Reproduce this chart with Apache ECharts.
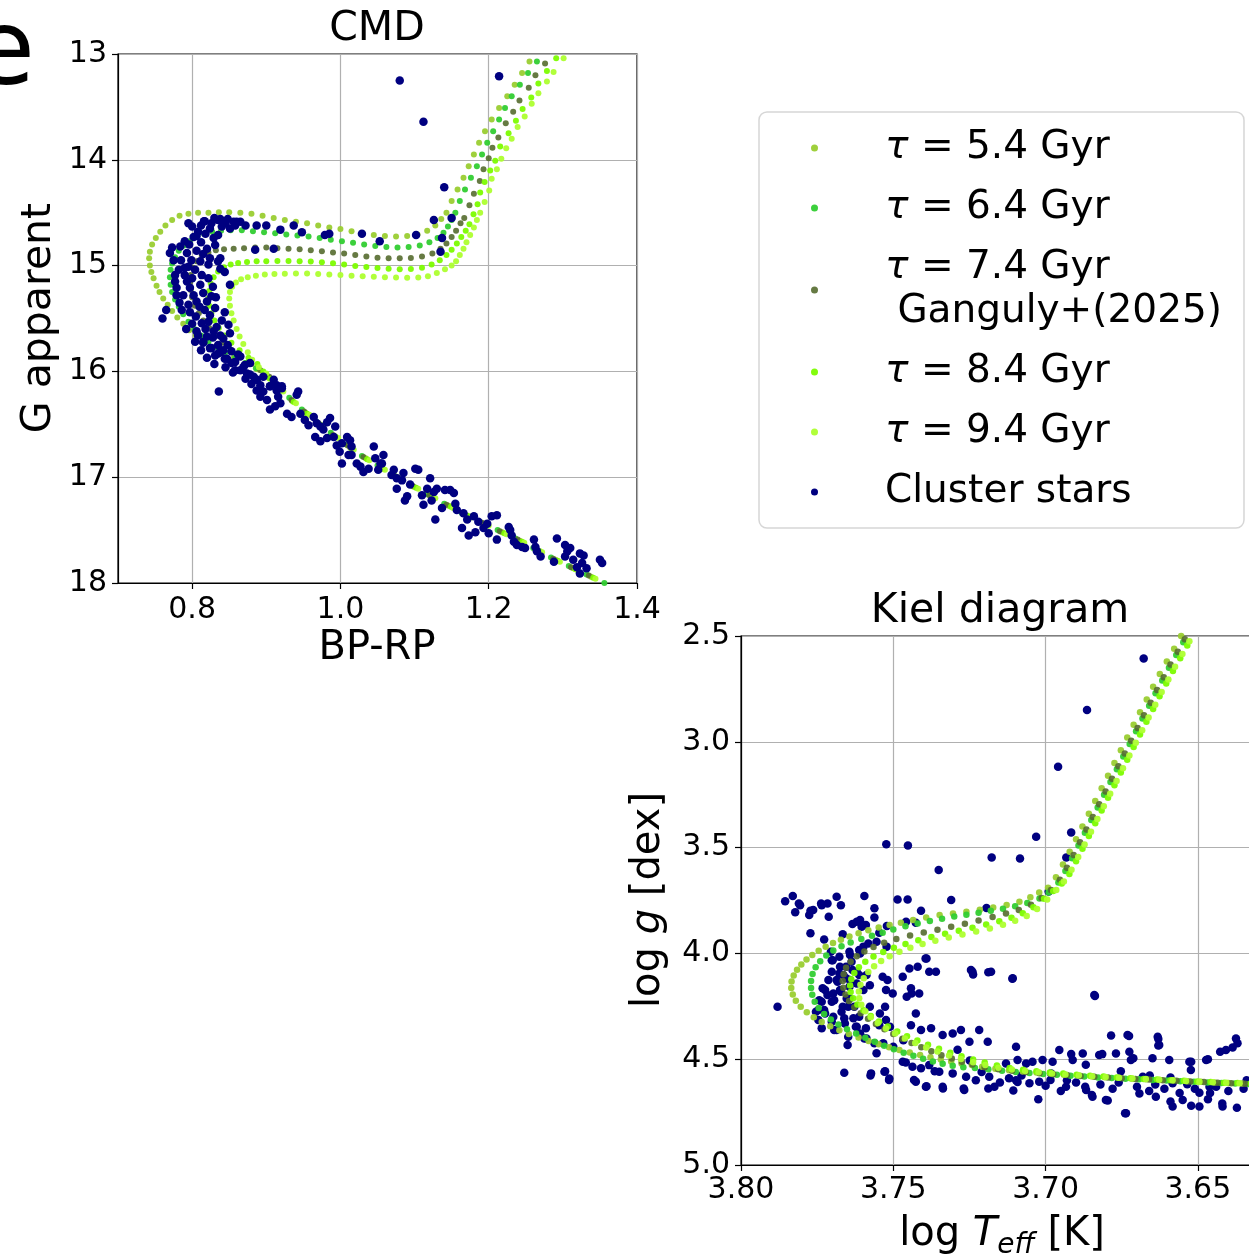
<!DOCTYPE html>
<html><head><meta charset="utf-8">
<script src="https://cdn.jsdelivr.net/npm/echarts@6/dist/echarts.min.js"></script>
<style>html,body{margin:0;padding:0;background:#fff}#c{width:1249px;height:1255px}</style>
</head><body><div id="c"></div>
<script>
// ---------- names / ticks ----------
const seriesNames = ['τ = 5.4 Gyr','τ = 6.4 Gyr','τ = 7.4 Gyr\n Ganguly+(2025)','τ = 8.4 Gyr','τ = 9.4 Gyr','Cluster stars'];
const seriesColors = ['#9acd32','#32cd32','#556b2f','#7cfc00','#adff2f','#000080'];
const cmdXTicks = [0.8,1.0,1.2,1.4];
const cmdYTicks = [13,14,15,16,17,18];
const kielXTicks = [3.80,3.75,3.70,3.65];
const kielYTicks = [2.5,3.0,3.5,4.0,4.5,5.0];

// ---------- CMD isochrones [BP-RP, G] ----------
const cmdIso54 = [[1.362,18.02],[1.338,17.94],[1.314,17.86],[1.29,17.78],[1.266,17.69],[1.242,17.60],[1.218,17.52],[1.194,17.44],[1.170,17.36],[1.146,17.27],[1.122,17.18],[1.099,17.09],[1.077,17.00],[1.055,16.91],[1.034,16.82],[1.013,16.72],[0.992,16.61],[0.972,16.50],[0.953,16.39],[0.935,16.28],[0.918,16.17],[0.903,16.06],
[0.888,15.98],[0.872,15.92],[0.856,15.87],[0.840,15.82],[0.827,15.77],[0.815,15.72],[0.805,15.66],[0.796,15.61],[0.788,15.55],[0.780,15.49],[0.773,15.43],[0.767,15.37],[0.761,15.31],[0.756,15.25],[0.752,15.19],[0.748,15.12],[0.745,15.06],[0.743,15.00],[0.742,14.93],[0.743,14.87],[0.746,14.80],[0.751,14.74],[0.757,14.68],[0.764,14.62],[0.773,14.57],[0.783,14.53],[0.795,14.51],[0.808,14.50],[0.822,14.50],[0.836,14.495],[0.850,14.495],[0.865,14.50],[0.880,14.51],[0.895,14.53],[0.910,14.55],[0.925,14.57],[0.940,14.585],[0.955,14.60],[0.970,14.62],[0.985,14.64],[1.000,14.655],[1.015,14.675],[1.030,14.695],[1.045,14.71],[1.060,14.72],[1.075,14.725],[1.090,14.72],[1.104,14.705],[1.117,14.67],[1.128,14.62],[1.136,14.56],
[1.143,14.50],[1.150,14.39],[1.158,14.28],[1.166,14.17],[1.173,14.06],[1.180,13.95],[1.187,13.84],[1.195,13.73],[1.204,13.62],[1.214,13.51],[1.225,13.40],[1.235,13.29],[1.245,13.18],[1.255,13.07],[1.265,12.96]];
const cmdIso64 = [[1.356,18.00],[1.332,17.92],[1.308,17.84],[1.284,17.76],[1.260,17.67],[1.236,17.58],[1.212,17.50],[1.188,17.42],[1.164,17.34],[1.140,17.25],[1.117,17.16],[1.094,17.07],[1.072,16.98],[1.050,16.89],[1.029,16.80],[1.008,16.69],[0.987,16.58],[0.967,16.47],[0.948,16.36],[0.931,16.25],[0.915,16.14],[0.900,16.03],[0.886,15.97],
[0.872,15.92],[0.858,15.87],[0.845,15.82],[0.833,15.77],[0.822,15.72],[0.812,15.66],[0.803,15.60],[0.795,15.53],[0.788,15.46],[0.782,15.39],[0.777,15.32],[0.773,15.25],[0.771,15.18],[0.770,15.11],[0.771,15.04],[0.773,14.98],[0.777,14.92],[0.782,14.86],[0.789,14.81],[0.797,14.77],[0.806,14.73],[0.816,14.70],[0.827,14.68],[0.839,14.67],[0.852,14.665],[0.867,14.665],[0.882,14.675],[0.897,14.685],[0.912,14.695],[0.927,14.705],[0.942,14.715],[0.957,14.725],[0.972,14.74],[0.987,14.755],[1.002,14.77],[1.017,14.785],[1.032,14.80],[1.047,14.815],[1.062,14.825],[1.077,14.83],[1.092,14.825],[1.107,14.81],[1.120,14.78],[1.131,14.74],[1.139,14.69],[1.145,14.63],[1.150,14.57],
[1.155,14.50],[1.161,14.39],[1.168,14.28],[1.176,14.17],[1.184,14.06],[1.191,13.95],[1.198,13.84],[1.206,13.73],[1.214,13.62],[1.222,13.51],[1.231,13.40],[1.242,13.29],[1.253,13.18],[1.265,13.07],[1.276,12.96]];
const cmdIso74 = [[1.359,18.01],[1.335,17.93],[1.311,17.85],[1.287,17.77],[1.263,17.68],[1.239,17.59],[1.215,17.51],[1.191,17.43],[1.167,17.35],[1.143,17.26],[1.120,17.17],[1.097,17.08],[1.074,16.99],[1.052,16.90],[1.031,16.81],[1.010,16.70],[0.990,16.60],[0.970,16.49],[0.951,16.38],[0.934,16.27],[0.918,16.16],[0.904,16.05],[0.892,15.99],
[0.880,15.93],[0.866,15.86],[0.853,15.80],[0.842,15.73],[0.832,15.66],[0.823,15.59],[0.815,15.52],[0.809,15.45],[0.804,15.38],[0.800,15.30],[0.798,15.23],[0.797,15.16],[0.798,15.09],[0.801,15.02],[0.806,14.96],[0.813,14.91],[0.822,14.875],[0.832,14.855],[0.843,14.845],[0.856,14.84],[0.870,14.835],[0.885,14.83],[0.900,14.83],[0.915,14.835],[0.930,14.84],[0.945,14.845],[0.960,14.855],[0.975,14.865],[0.990,14.875],[1.005,14.885],[1.020,14.90],[1.035,14.915],[1.050,14.925],[1.065,14.93],[1.080,14.93],[1.095,14.928],[1.110,14.915],[1.124,14.885],[1.135,14.84],[1.143,14.79],[1.150,14.73],[1.156,14.67],[1.162,14.60],
[1.167,14.55],[1.174,14.43],[1.180,14.32],[1.188,14.20],[1.193,14.09],[1.200,13.985],[1.205,13.885],[1.213,13.79],[1.223,13.655],[1.233,13.545],[1.2415,13.44],[1.254,13.32],[1.263,13.20],[1.276,13.09],[1.288,12.98]];
const cmdIso84 = [[1.365,18.03],[1.341,17.95],[1.317,17.87],[1.293,17.79],[1.269,17.70],[1.245,17.61],[1.221,17.53],[1.197,17.45],[1.173,17.37],[1.149,17.28],[1.125,17.19],[1.102,17.10],[1.079,17.01],[1.057,16.92],[1.036,16.83],[1.015,16.73],[0.994,16.62],[0.974,16.51],[0.955,16.40],[0.937,16.29],[0.920,16.18],[0.905,16.07],[0.896,16.00],
[0.888,15.93],[0.876,15.87],[0.864,15.80],[0.853,15.73],[0.844,15.66],[0.836,15.59],[0.830,15.52],[0.826,15.45],[0.823,15.38],[0.822,15.31],[0.823,15.24],[0.825,15.17],[0.829,15.11],[0.835,15.055],[0.843,15.015],[0.852,14.99],[0.862,14.975],[0.874,14.965],[0.887,14.96],[0.900,14.958],[0.915,14.956],[0.930,14.956],[0.945,14.958],[0.960,14.962],[0.975,14.968],[0.990,14.978],[1.005,14.99],[1.020,15.003],[1.035,15.013],[1.050,15.022],[1.065,15.03],[1.080,15.035],[1.095,15.033],[1.110,15.02],[1.123,14.99],[1.134,14.95],[1.143,14.90],[1.150,14.85],[1.157,14.79],[1.163,14.73],[1.169,14.67],[1.174,14.61],
[1.1795,14.515],[1.185,14.42],[1.1885,14.31],[1.1945,14.21],[1.202,14.10],[1.2088,14.01],[1.2155,13.875],[1.2268,13.75],[1.2367,13.63],[1.2457,13.52],[1.2574,13.41],[1.267,13.28],[1.2785,13.16],[1.291,13.04]];
const cmdIso94 = [[1.368,18.04],[1.344,17.96],[1.320,17.88],[1.296,17.80],[1.272,17.71],[1.248,17.62],[1.224,17.54],[1.200,17.46],[1.176,17.38],[1.152,17.29],[1.128,17.20],[1.105,17.11],[1.082,17.02],[1.060,16.93],[1.039,16.84],[1.018,16.74],[0.997,16.63],[0.977,16.52],[0.958,16.41],[0.940,16.30],[0.923,16.19],[0.909,16.09],[0.900,16.02],
[0.890,15.96],[0.881,15.89],[0.875,15.82],[0.869,15.74],[0.864,15.67],[0.860,15.60],[0.856,15.52],[0.853,15.45],[0.851,15.38],[0.850,15.31],[0.851,15.25],[0.854,15.20],[0.859,15.16],[0.866,15.13],[0.875,15.11],[0.886,15.095],[0.898,15.085],[0.911,15.08],[0.925,15.078],[0.940,15.075],[0.955,15.075],[0.970,15.08],[0.985,15.085],[1.000,15.09],[1.015,15.095],[1.030,15.10],[1.045,15.105],[1.060,15.11],[1.075,15.112],[1.090,15.115],[1.105,15.112],[1.118,15.10],[1.130,15.07],[1.141,15.035],[1.150,15.00],[1.156,14.96],[1.161,14.90],[1.166,14.84],[1.170,14.78],[1.175,14.71],[1.180,14.64],[1.184,14.57],
[1.1885,14.50],[1.1945,14.40],[1.2007,14.29],[1.204,14.18],[1.211,14.09],[1.217,13.99],[1.2236,13.89],[1.231,13.80],[1.239,13.69],[1.2485,13.59],[1.258,13.47],[1.267,13.37],[1.2785,13.26],[1.2875,13.17],[1.301,13.04]];

// ---------- CMD cluster stars [BP-RP, G] ----------
const cmdStars = [[1.080,13.25],[1.112,13.64],[1.214,13.21],[1.140,14.26],[1.126,14.57],[1.150,14.55],[1.102,14.71],[1.137,14.74],[1.135,14.87],[1.053,14.77],[1.029,14.70],[0.985,14.70],[0.979,14.71],[0.948,14.685],[0.937,14.62],[0.919,14.66],[0.900,14.62],[0.887,14.62],[0.910,14.84],[0.885,14.85],[0.865,14.585],[0.856,14.585],[0.838,14.56],[0.817,14.58],[0.795,14.60],[0.773,14.83],[0.760,15.50],[0.836,16.19],
[0.816,14.58],[0.835,14.57],[0.840,14.63],[0.851,14.65],[0.858,14.62],[0.860,14.585],[0.808,14.68],[0.802,14.73],[0.790,14.77],[0.784,14.82],[0.824,14.65],[0.829,14.74],[0.835,14.71],[0.831,14.805],[0.793,14.88],[0.799,14.95],[0.795,15.01],[0.804,15.04],[0.811,14.96],[0.813,15.09],[0.822,14.99],[0.824,14.93],[0.835,14.96],[0.838,14.93],[0.844,15.06],[0.851,15.18],[0.777,15.09],[0.777,15.15],[0.779,15.21],[0.779,15.28],[0.790,15.09],[0.793,15.15],[0.797,15.21],[0.802,15.28],[0.806,15.34],[0.811,15.18],[0.815,15.26],[0.820,15.34],[0.826,15.29],[0.788,15.28],[0.795,15.37],[0.797,15.44],[0.805,15.48],[0.813,15.545],[0.817,15.42],[0.824,15.47],[0.831,15.40],[0.833,15.58],[0.838,15.66],[0.844,15.44],[0.808,15.66],[0.815,15.72],[0.824,15.78],[0.829,15.62],[0.835,15.75],[0.842,15.69],[0.849,15.56],[0.851,15.64],[0.831,15.85],[0.844,15.88],[0.853,15.81],[0.858,15.91],[0.865,15.99],[0.871,15.94],[0.878,16.03],[0.887,16.08],[0.896,16.05],[0.905,16.14],[0.914,16.13],[0.921,16.16],[0.943,16.19],
[0.800,14.63],[0.812,14.62],[0.826,14.60],[0.845,14.60],[0.806,14.72],[0.818,14.70],[0.796,14.80],[0.812,14.78],[0.820,14.84],[0.806,14.86],[0.785,14.95],[0.815,14.89],[0.790,15.02],[0.800,15.12],[0.783,15.35],[0.786,15.42],[0.800,15.55],[0.792,15.60],[0.810,15.39],[0.822,15.53],[0.828,15.68],[0.818,15.60],[0.840,15.52],[0.804,15.72],[0.812,15.80],[0.820,15.87],[0.838,15.82],[0.848,15.75],[0.862,15.84],[0.830,15.93],[0.845,15.96],[0.855,16.01],[0.872,16.07],[0.880,16.12],[0.770,14.88],[0.775,14.95],[0.782,15.04],[0.765,15.42],[0.830,14.55],[0.848,14.56],[0.872,14.62],[0.822,15.12],[0.838,15.03],[0.828,15.20],[0.832,15.30],
[0.806,15.62],[0.820,15.67],[0.815,15.73],[0.826,15.78],[0.835,15.83],[0.842,15.80],[0.847,15.88],[0.853,15.92],[0.858,15.99],[0.865,15.86],[0.869,15.96],[0.874,16.02],[0.878,15.92],[0.883,16.05],[0.887,16.08],[0.892,16.13],[0.887,16.18],[0.892,16.24],[0.896,16.19],[0.901,16.27],[0.905,16.14],[0.910,16.08],[0.914,16.18],[0.916,16.24],[0.921,16.14],[0.905,16.36],[0.912,16.33],[0.919,16.30],[0.928,16.40],[0.934,16.43],[0.941,16.22],[0.946,16.40],[0.952,16.46],[0.957,16.51],[0.964,16.43],[0.968,16.49],[0.973,16.52],[0.977,16.55],[0.982,16.48],[0.986,16.44],[0.993,16.52],[0.966,16.62],[0.973,16.66],[0.982,16.63],[0.991,16.62],[0.995,16.70],[1.002,16.68],[1.009,16.62],[1.013,16.65],[1.015,16.71],[0.999,16.76],[1.002,16.87],[1.011,16.79],[1.015,16.79],[1.022,16.87],[1.027,16.90],[1.045,16.71],[1.047,16.82],[1.054,16.87],[1.058,16.79],[1.031,16.95],[1.038,16.92],[1.051,16.93],
[1.056,16.87],[1.072,16.93],[1.069,16.98],[1.076,17.01],[1.085,16.96],[1.083,17.03],[1.076,17.11],[1.090,17.18],[1.087,17.22],[1.094,17.07],[1.101,16.92],[1.105,16.93],[1.110,17.17],[1.112,17.26],[1.117,17.11],[1.121,17.01],[1.123,17.22],[1.126,17.14],[1.128,17.40],[1.130,17.11],[1.137,17.29],[1.141,17.12],[1.148,17.12],[1.153,17.15],[1.155,17.25],[1.157,17.31],[1.166,17.34],[1.164,17.48],[1.171,17.40],[1.173,17.55],[1.180,17.37],[1.182,17.52],[1.186,17.42],[1.193,17.48],[1.198,17.44],[1.204,17.37],[1.211,17.36],[1.211,17.59],[1.200,17.53],[1.227,17.47],[1.231,17.55],[1.234,17.61],[1.229,17.50],[1.238,17.64],[1.245,17.66],[1.249,17.67],[1.261,17.59],[1.265,17.70],[1.270,17.75],[1.263,17.66],[1.288,17.80],[1.292,17.58],[1.303,17.64],[1.306,17.70],[1.303,17.75],[1.310,17.67],[1.314,17.78],[1.319,17.85],[1.323,17.72],[1.328,17.74],[1.332,17.86],[1.326,17.81],[1.350,17.78],[1.353,17.81],[1.323,17.91]];

// ---------- Kiel isochrones [log Teff, log g] ----------
const kielIso54 = [[3.6555,2.50],[3.6578,2.56],[3.6602,2.62],[3.6625,2.68],[3.6647,2.74],[3.6668,2.80],[3.6690,2.86],[3.6711,2.92],[3.6732,2.98],[3.6753,3.04],[3.6774,3.10],[3.6795,3.16],[3.6816,3.22],[3.6837,3.28],[3.6858,3.34],[3.6879,3.40],[3.6900,3.46],[3.6921,3.52],[3.6943,3.58],[3.6966,3.64],[3.6992,3.69],
[3.7021,3.712],[3.7050,3.735],[3.7086,3.756],[3.7128,3.771],[3.7172,3.783],[3.7216,3.794],[3.7260,3.803],[3.7304,3.811],[3.7348,3.819],[3.7392,3.830],[3.7435,3.842],[3.7475,3.855],[3.7512,3.866],[3.7548,3.878],[3.7582,3.891],[3.7614,3.905],[3.7644,3.920],[3.7672,3.935],[3.7698,3.951],[3.7722,3.968],[3.7745,3.987],[3.7766,4.007],[3.7785,4.029],[3.7802,4.052],[3.7816,4.077],[3.7827,4.104],[3.7834,4.133],[3.7835,4.163],[3.7830,4.194],[3.7820,4.224],[3.7804,4.252],[3.7784,4.278],[3.7761,4.302],[3.7735,4.324],[3.7707,4.344],[3.7677,4.363],[3.7646,4.381],[3.7614,4.398],[3.7581,4.414],[3.7548,4.429],[3.7514,4.443],[3.7480,4.456],[3.7446,4.468],[3.7412,4.480],[3.7378,4.491],[3.7344,4.501],[3.7310,4.511],[3.7276,4.520],[3.7242,4.528],[3.7208,4.536],
[3.7165,4.545],[3.7120,4.552],[3.7075,4.558],[3.7030,4.563],[3.6985,4.568],[3.6940,4.573],[3.6895,4.577],[3.6850,4.581],[3.6805,4.585],[3.6760,4.588],[3.6715,4.592],[3.6670,4.595],[3.6625,4.598],[3.6580,4.601],[3.6535,4.604],[3.6490,4.607],[3.6445,4.610],[3.6400,4.612],[3.6355,4.615],[3.6310,4.617]];
const kielIso64 = [[3.6548,2.53],[3.6571,2.59],[3.6595,2.65],[3.6617,2.71],[3.6639,2.77],[3.6660,2.83],[3.6682,2.89],[3.6703,2.95],[3.6724,3.01],[3.6745,3.07],[3.6766,3.13],[3.6787,3.19],[3.6808,3.25],[3.6829,3.31],[3.6850,3.37],[3.6871,3.43],[3.6892,3.49],[3.6913,3.55],[3.6935,3.61],[3.6958,3.665],
[3.6990,3.712],[3.7020,3.740],[3.7060,3.762],[3.7100,3.777],[3.7140,3.789],[3.7180,3.799],[3.7220,3.808],[3.7260,3.817],[3.7300,3.826],[3.7340,3.836],[3.7380,3.847],[3.7420,3.859],[3.7460,3.872],[3.7500,3.887],[3.7535,3.902],[3.7570,3.917],[3.7605,3.932],[3.7640,3.948],[3.7670,3.966],[3.7697,3.986],[3.7720,4.010],[3.7740,4.037],[3.7755,4.066],[3.7765,4.097],[3.7770,4.130],[3.7770,4.163],[3.7766,4.196],[3.7758,4.228],[3.7745,4.258],[3.7727,4.286],[3.7705,4.312],[3.7680,4.336],[3.7652,4.358],[3.7622,4.379],[3.7592,4.399],[3.7561,4.418],[3.7530,4.436],[3.7498,4.453],[3.7466,4.469],[3.7434,4.484],[3.7402,4.498],[3.7370,4.511],[3.7338,4.522],[3.7305,4.531],[3.7270,4.538],
[3.7232,4.541],[3.7188,4.548],[3.7143,4.554],[3.7098,4.560],[3.7053,4.565],[3.7008,4.570],[3.6963,4.574],[3.6918,4.578],[3.6873,4.582],[3.6828,4.586],[3.6783,4.589],[3.6738,4.592],[3.6693,4.595],[3.6648,4.598],[3.6603,4.601],[3.6558,4.604],[3.6513,4.607],[3.6468,4.610],[3.6423,4.612],[3.6378,4.615],[3.6333,4.617]];
const kielIso74 = [[3.6543,2.515],[3.6566,2.575],[3.6590,2.635],[3.6612,2.695],[3.6634,2.755],[3.6655,2.815],[3.6677,2.875],[3.6698,2.935],[3.6719,2.995],[3.6740,3.055],[3.6761,3.115],[3.6782,3.175],[3.6803,3.235],[3.6824,3.295],[3.6845,3.355],[3.6866,3.415],[3.6887,3.475],[3.6908,3.535],[3.6930,3.595],[3.6953,3.652],
[3.6982,3.700],[3.7013,3.738],[3.7048,3.770],[3.7088,3.795],[3.7130,3.812],[3.7174,3.828],[3.7220,3.845],[3.7265,3.860],[3.7310,3.874],[3.7355,3.888],[3.7400,3.901],[3.7445,3.915],[3.7490,3.932],[3.7530,3.950],[3.7565,3.970],[3.7595,3.991],[3.7620,4.014],[3.7640,4.040],[3.7655,4.068],[3.7663,4.098],[3.7666,4.130],[3.7664,4.162],[3.7657,4.194],[3.7645,4.225],[3.7628,4.255],[3.7607,4.283],[3.7583,4.309],[3.7557,4.334],[3.7529,4.358],[3.7500,4.381],[3.7470,4.403],[3.7440,4.424],[3.7408,4.444],[3.7375,4.463],[3.7342,4.481],[3.7308,4.497],[3.7275,4.512],[3.7240,4.525],
[3.7200,4.538],[3.7155,4.547],[3.7110,4.554],[3.7065,4.560],[3.7020,4.566],[3.6975,4.571],[3.6930,4.575],[3.6885,4.579],[3.6840,4.583],[3.6795,4.587],[3.6750,4.590],[3.6705,4.593],[3.6660,4.596],[3.6615,4.599],[3.6570,4.602],[3.6525,4.605],[3.6480,4.608],[3.6435,4.611],[3.6390,4.614],[3.6345,4.616],[3.6300,4.618]];
const kielIso84 = [[3.6535,2.545],[3.6558,2.605],[3.6582,2.665],[3.6604,2.725],[3.6626,2.785],[3.6647,2.845],[3.6669,2.905],[3.6690,2.965],[3.6711,3.025],[3.6732,3.085],[3.6753,3.145],[3.6774,3.205],[3.6795,3.265],[3.6816,3.325],[3.6837,3.385],[3.6858,3.445],[3.6879,3.505],[3.6900,3.565],[3.6922,3.625],[3.6947,3.670],
[3.6975,3.705],[3.7005,3.742],[3.7040,3.782],[3.7075,3.810],[3.7112,3.831],[3.7152,3.848],[3.7195,3.864],[3.7240,3.879],[3.7285,3.893],[3.7330,3.907],[3.7375,3.922],[3.7418,3.938],[3.7460,3.955],[3.7498,3.973],[3.7533,3.993],[3.7565,4.015],[3.7592,4.039],[3.7613,4.065],[3.7628,4.093],[3.7638,4.122],[3.7642,4.152],[3.7640,4.182],[3.7632,4.212],[3.7618,4.241],[3.7598,4.269],[3.7574,4.296],[3.7547,4.322],[3.7518,4.346],[3.7487,4.369],[3.7455,4.391],[3.7421,4.412],[3.7386,4.432],[3.7350,4.451],[3.7313,4.469],[3.7276,4.486],[3.7238,4.502],[3.7200,4.516],
[3.7160,4.530],[3.7118,4.541],[3.7074,4.550],[3.7030,4.557],[3.6986,4.563],[3.6942,4.568],[3.6898,4.573],[3.6854,4.578],[3.6810,4.582],[3.6766,4.586],[3.6722,4.590],[3.6678,4.593],[3.6634,4.596],[3.6590,4.599],[3.6546,4.602],[3.6502,4.605],[3.6458,4.608],[3.6414,4.611],[3.6370,4.613],[3.6326,4.615]];
const kielIso94 = [[3.6528,2.525],[3.6551,2.585],[3.6575,2.645],[3.6597,2.705],[3.6619,2.765],[3.6640,2.825],[3.6662,2.885],[3.6683,2.945],[3.6704,3.005],[3.6725,3.065],[3.6746,3.125],[3.6767,3.185],[3.6788,3.245],[3.6809,3.305],[3.6830,3.365],[3.6851,3.425],[3.6872,3.485],[3.6893,3.545],[3.6915,3.605],[3.6940,3.660],
[3.6965,3.700],[3.6995,3.745],[3.7028,3.790],[3.7062,3.823],[3.7100,3.846],[3.7140,3.865],[3.7183,3.882],[3.7228,3.897],[3.7273,3.911],[3.7318,3.925],[3.7362,3.940],[3.7404,3.956],[3.7444,3.973],[3.7480,3.992],[3.7512,4.013],[3.7540,4.036],[3.7563,4.061],[3.7582,4.088],[3.7597,4.117],[3.7608,4.148],[3.7613,4.180],[3.7612,4.212],[3.7605,4.243],[3.7592,4.273],[3.7574,4.302],[3.7551,4.329],[3.7524,4.355],[3.7494,4.379],[3.7462,4.402],[3.7428,4.424],[3.7392,4.445],[3.7355,4.464],[3.7317,4.482],[3.7278,4.499],[3.7238,4.515],[3.7198,4.528],
[3.7155,4.540],[3.7111,4.549],[3.7067,4.556],[3.7023,4.562],[3.6979,4.567],[3.6935,4.572],[3.6891,4.576],[3.6847,4.580],[3.6803,4.584],[3.6759,4.588],[3.6715,4.591],[3.6671,4.594],[3.6627,4.597],[3.6583,4.600],[3.6539,4.603],[3.6495,4.606],[3.6451,4.609],[3.6407,4.611],[3.6363,4.614],[3.6319,4.616]];

// ---------- Kiel cluster stars [log Teff, log g] ----------
const kielStars = [[3.6678,2.606],[3.6864,2.850],[3.6959,3.118],[3.7031,3.449],[3.6916,3.429],[3.6932,3.547],[3.6990,3.707],[3.7177,3.547],[3.7084,3.551],[3.7523,3.484],[3.7452,3.490],[3.7351,3.606],[3.7310,3.748],[3.7194,3.785],[3.6838,4.201],[3.7109,4.120],[3.7188,4.089],[3.7238,4.100],[3.7245,4.079],[3.7394,4.024],[3.7880,4.252],
[3.7855,3.753],[3.7830,3.729],[3.7810,3.764],[3.7822,3.806],[3.7772,3.798],[3.7776,3.819],[3.7737,3.764],[3.7716,3.764],[3.7712,3.827],[3.7686,3.732],[3.7672,3.772],[3.7772,3.905],[3.7727,3.934],[3.7666,3.909],[3.7634,3.861],[3.7595,3.729],[3.7609,3.842],[3.7590,3.866],[3.7562,3.787],[3.7562,3.830],[3.7546,3.902],[3.7521,3.871],[3.7486,3.745],[3.7453,3.745],[3.7458,3.850],[3.7426,3.855],[3.7409,3.798],[3.7806,3.772],[3.7763,3.795],[3.7735,3.772],[3.7620,3.850],[3.7604,3.874],
[3.7705,3.992],[3.7699,4.032],[3.7677,4.016],[3.7655,4.063],[3.7644,3.992],[3.7612,3.984],[3.7677,4.095],[3.7655,4.118],[3.7634,4.079],[3.7612,4.102],[3.7683,4.134],[3.7732,4.165],[3.7716,4.197],[3.7743,4.221],[3.7754,4.276],[3.7727,4.268],[3.7694,4.221],[3.7672,4.181],[3.7644,4.158],[3.7666,4.252],[3.7644,4.213],[3.7628,4.252],[3.7612,4.299],[3.7661,4.307],[3.7694,4.362],[3.7623,4.347],[3.7590,4.354],[3.7650,4.433],[3.7595,4.402],[3.7562,4.425],[3.7546,4.339],[3.7524,4.315],[3.7573,4.567],[3.7529,4.559],[3.7513,4.591],[3.7661,4.564],
[3.7702,4.032],[3.7675,4.063],[3.7642,4.008],[3.7637,4.039],[3.7609,4.000],[3.7598,3.968],[3.7582,3.953],[3.7555,3.945],[3.7522,3.968],[3.7702,4.087],[3.7686,4.126],[3.7664,4.102],[3.7642,4.126],[3.7620,4.142],[3.7598,4.173],[3.7588,4.102],[3.7713,4.126],[3.7724,4.173],[3.7697,4.189],[3.7675,4.173],[3.7653,4.213],[3.7702,4.228],[3.7735,4.228],[3.7746,4.268],[3.7724,4.284],[3.7697,4.299],[3.7670,4.276],[3.7648,4.252],[3.7631,4.307],[3.7659,4.331],[3.7620,4.347],[3.7609,4.378],[3.7588,4.402],[3.7648,4.394],[3.7686,4.362],[3.7702,4.323],[3.7746,4.315],[3.7735,4.354],[3.7527,4.252],[3.7511,4.347],[3.7544,4.284],[3.7500,4.441],[3.7533,4.425],[3.7555,4.472],[3.7467,4.410],[3.7577,4.252],[3.7620,4.087],[3.7577,4.150],
[3.7535,4.110],[3.7519,4.126],[3.7502,4.189],[3.7524,4.173],[3.7447,4.071],[3.7420,4.063],[3.7382,4.087],[3.7360,4.087],[3.7469,4.110],[3.7442,4.165],[3.7415,4.189],[3.7426,4.284],[3.7442,4.339],[3.7409,4.362],[3.7376,4.354],[3.7338,4.386],[3.7305,4.378],[3.7278,4.362],[3.7250,4.417],[3.7218,4.362],[3.7190,4.417],[3.7240,4.087],[3.7179,4.087],[3.7108,4.118],[3.6840,4.197],[3.7456,4.205],[3.7440,4.189],[3.7391,4.024],
[3.7469,4.512],[3.7437,4.536],[3.7409,4.543],[3.7382,4.528],[3.7349,4.559],[3.7305,4.567],[3.7261,4.583],[3.7229,4.599],[3.7185,4.583],[3.7168,4.630],[3.7426,4.606],[3.7393,4.630],[3.7338,4.630],[3.7267,4.646],[3.7130,4.520],[3.7097,4.441],[3.7092,4.504],[3.7064,4.520],[3.7043,4.512],[3.7010,4.504],[3.6977,4.512],[3.7097,4.599],[3.7053,4.614],[3.7021,4.606],[3.6982,4.567],[3.6955,4.457],[3.6911,4.504],[3.6878,4.473],[3.6933,4.630],[3.6867,4.646],[3.6846,4.677],[3.6802,4.693],[3.6824,4.480],[3.6769,4.473],[3.6725,4.465],[3.6731,4.386],[3.6720,4.504],[3.6681,4.583],[3.6649,4.496],[3.6632,4.394],[3.6627,4.433],[3.6594,4.504],[3.6583,4.614],[3.6528,4.512],[3.6523,4.551],[3.6473,4.504],[3.6462,4.630],[3.6408,4.457],[3.6375,4.402],[3.6419,4.724],[3.6583,4.724],[3.6736,4.756],[3.6692,4.662],[3.6638,4.677],[3.6550,4.693],[3.6495,4.724],
[3.6785,4.388],[3.6726,4.390],[3.6630,4.404],[3.6630,4.435],[3.6522,4.512],[3.6467,4.500],[3.6427,4.465],[3.6386,4.445],[3.6370,4.425],[3.6420,4.709],[3.6372,4.730],[3.6467,4.689],[3.6522,4.720],[3.6590,4.700],[3.6739,4.756],[3.6796,4.695],[3.6848,4.669],[3.7024,4.689],[3.7106,4.648],[3.7188,4.638],[3.7269,4.638],[3.7337,4.638],[3.7391,4.628],[3.7432,4.598],[3.7514,4.598],[3.7575,4.577],[3.7527,4.557],[3.7459,4.516],[3.6916,4.476],[3.6868,4.526],[3.6814,4.476],[3.6712,4.496],[3.6753,4.557],[3.6658,4.577],[3.6590,4.587],[3.6535,4.618],[3.6495,4.659],[3.7092,4.608],[3.6984,4.598],[3.7249,4.506],[3.7289,4.455],[3.7364,4.557],[3.7079,4.577],
[3.7150,4.610],[3.7000,4.625],[3.6950,4.650],[3.6900,4.610],[3.6870,4.630],[3.6820,4.620],[3.6780,4.640],[3.6760,4.610],[3.6700,4.630],[3.6660,4.650],[3.6610,4.640],[3.6560,4.660],[3.6510,4.640],[3.6460,4.660],[3.6400,4.650],[3.6350,4.640],[3.7210,4.560],[3.7120,4.590],[3.6930,4.600],[3.6640,4.620],[3.6440,4.630],[3.6340,4.600]];

// ---------- chart ----------
const FONT = 'DejaVu Sans';
const chart = echarts.init(document.getElementById('c'), null, {renderer:'canvas'});
const tickLabel = {color:'#000', fontFamily:FONT, fontSize:30};
const splitLine = {show:true, lineStyle:{color:'#b0b0b0', width:1.2}};
const axisLine = {show:true, lineStyle:{color:'#000', width:1.2}};
const axisTick = {show:true, inside:false, length:6, lineStyle:{color:'#000', width:1.2}};

function scatter(name, data, color, size, xi, z, opacity){
  return {type:'scatter', name:name, data:data, xAxisIndex:xi, yAxisIndex:xi, symbol:'circle', symbolSize:size,
    itemStyle:{color:color, opacity:opacity}, z:z, silent:true, animation:false, large:false};
}

const option = {
  animation:false,
  backgroundColor:'#fff',
  grid:[
    {left:118, top:54, width:519, height:529, show:true, borderColor:'#000', borderWidth:1.2, containLabel:false, outerBoundsMode:'none'},
    {left:741, top:636, width:609.2, height:529, show:true, borderColor:'#000', borderWidth:1.2, containLabel:false, outerBoundsMode:'none'}
  ],
  xAxis:[
    {type:'value', gridIndex:0, min:0.7, max:1.4, axisLine:axisLine,
     axisTick:Object.assign({}, axisTick, {customValues:cmdXTicks}),
     axisLabel:Object.assign({}, tickLabel, {customValues:cmdXTicks, margin:12, formatter:v=>v.toFixed(1)}),
     splitLine:splitLine},
    {type:'value', gridIndex:1, min:3.60, max:3.80, interval:0.05, inverse:true, axisLine:axisLine, axisTick:axisTick,
     axisLabel:Object.assign({}, tickLabel, {margin:10, showMinLabel:true, showMaxLabel:true, formatter:v=>v.toFixed(2)}),
     splitLine:splitLine}
  ],
  yAxis:[
    {type:'value', gridIndex:0, min:13, max:18, interval:1, inverse:true, axisLine:axisLine, axisTick:axisTick,
     axisLabel:Object.assign({}, tickLabel, {margin:11, showMinLabel:true, showMaxLabel:true}), splitLine:splitLine},
    {type:'value', gridIndex:1, min:2.5, max:5.0, interval:0.5, inverse:true, axisLine:axisLine, axisTick:axisTick,
     axisLabel:Object.assign({}, tickLabel, {margin:11, showMinLabel:true, showMaxLabel:true, formatter:v=>v.toFixed(1)}), splitLine:splitLine}
  ],
  legend:{
    show:true, orient:'vertical', left:759, top:112,
    data:seriesNames, selectedMode:false,
    itemWidth:7, itemHeight:7, itemGap:16, icon:'circle',
    padding:[14,22,14,52],
    backgroundColor:'#fff', borderColor:'#d6d6d6', borderWidth:1.5, borderRadius:8,
    textStyle:{fontFamily:FONT, fontSize:39, color:'#000', lineHeight:44,
      rich:{sp:{width:62, fontSize:39, lineHeight:44}, t:{fontStyle:'italic', fontFamily:FONT, fontSize:39, lineHeight:44}}},
    formatter:function(name){
      return name.split('\n').map(function(line){return '{sp|}' + line.replace('τ','{t|τ}');}).join('\n');
    }
  },
  graphic:[
    {type:'text', x:35, y:57, style:{text:'e', fontFamily:FONT, fontSize:105, fill:'#000', align:'right', verticalAlign:'middle'}},
    {type:'text', x:377, y:29, style:{text:'CMD', fontFamily:FONT, fontSize:41, fill:'#000', align:'center', verticalAlign:'middle'}},
    {type:'text', x:377, y:649, style:{text:'BP-RP', fontFamily:FONT, fontSize:40, fill:'#000', align:'center', verticalAlign:'middle'}},
    {type:'text', x:39, y:318, rotation:Math.PI/2, style:{text:'G apparent', fontFamily:FONT, fontSize:41, fill:'#000', align:'center', verticalAlign:'middle'}},
    {type:'text', x:1000, y:611, style:{text:'Kiel diagram', fontFamily:FONT, fontSize:41, fill:'#000', align:'center', verticalAlign:'middle'}},
    {type:'text', x:1002, y:1235, style:{text:'{a|log }{b|T}{c|eff}{a| [K]}', align:'center', verticalAlign:'middle', fill:'#000',
      rich:{a:{fontFamily:FONT, fontSize:40, lineHeight:50, verticalAlign:'middle'},
            b:{fontFamily:FONT, fontSize:40, fontStyle:'italic', lineHeight:50, verticalAlign:'middle'},
            c:{fontFamily:FONT, fontSize:28, fontStyle:'italic', lineHeight:50, verticalAlign:'bottom', padding:[0,0,0,0]}}}},
    {type:'text', x:649, y:900, rotation:Math.PI/2, style:{text:'{a|log }{b|g}{a| [dex]}', align:'center', verticalAlign:'middle', fill:'#000',
      rich:{a:{fontFamily:FONT, fontSize:40, lineHeight:50}, b:{fontFamily:FONT, fontSize:40, fontStyle:'italic', lineHeight:50}}}}
  ],
  series:[
    scatter(seriesNames[0], cmdIso54, seriesColors[0], 6, 0, 2, 0.95),
    scatter(seriesNames[1], cmdIso64, seriesColors[1], 6, 0, 3, 0.95),
    scatter(seriesNames[2], cmdIso74, seriesColors[2], 6, 0, 4, 0.9),
    scatter(seriesNames[3], cmdIso84, seriesColors[3], 6, 0, 5, 0.95),
    scatter(seriesNames[4], cmdIso94, seriesColors[4], 6, 0, 6, 0.95),
    scatter(seriesNames[5], cmdStars, seriesColors[5], 8.5, 0, 7, 1),
    scatter(seriesNames[5], kielStars, seriesColors[5], 8.5, 1, 2, 1),
    scatter(seriesNames[0], kielIso54, seriesColors[0], 6.5, 1, 3, 0.95),
    scatter(seriesNames[1], kielIso64, seriesColors[1], 6.5, 1, 4, 0.95),
    scatter(seriesNames[2], kielIso74, seriesColors[2], 6.5, 1, 5, 0.9),
    scatter(seriesNames[3], kielIso84, seriesColors[3], 6.5, 1, 6, 0.95),
    scatter(seriesNames[4], kielIso94, seriesColors[4], 6.5, 1, 7, 0.95)
  ]
};
chart.setOption(option);
</script>
</body></html>
